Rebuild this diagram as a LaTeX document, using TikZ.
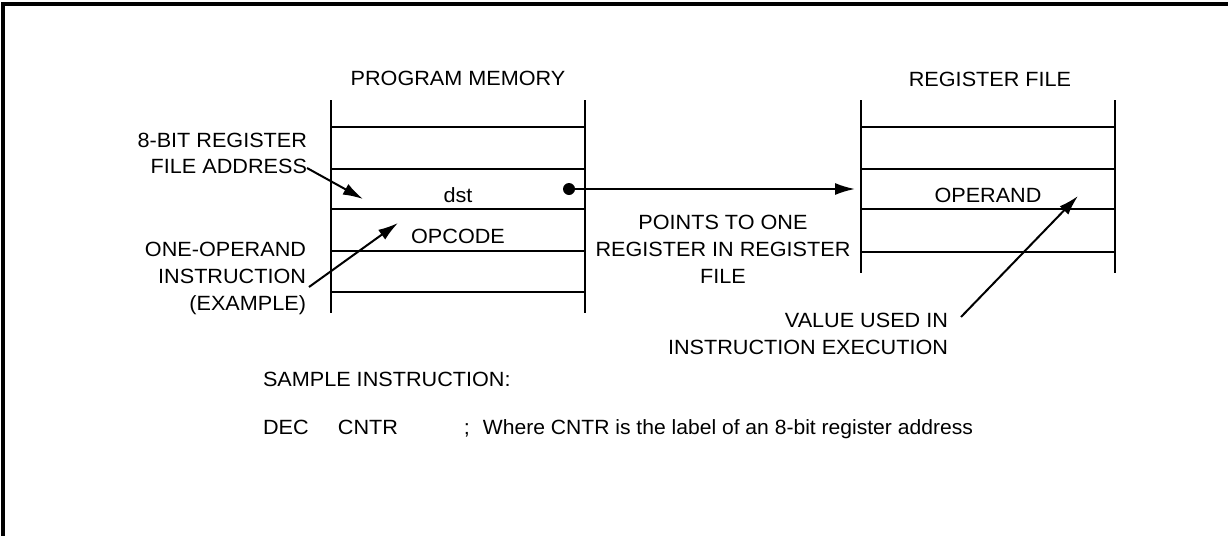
\documentclass[tikz,border=0pt]{standalone}
\usepackage{fontspec}
\setmainfont{Liberation Sans}[FakeStretch=1.05]
\usetikzlibrary{arrows.meta}
\begin{document}
\begin{tikzpicture}[x=0.5pt,y=-0.5pt,
  lbl/.style={inner sep=0pt, outer sep=0pt, font=\fontsize{10.3}{13.3}\selectfont},
  colline/.style={line width=1.2pt},
  rowline/.style={line width=1.2pt},
  arr/.style={line width=1pt, -{Latex[length=10pt,width=6pt]}},
  framel/.style={line width=1.6pt},
]
\useasboundingbox (0,0) rectangle (1228,536);
% frame (open at right and bottom)
\draw[framel] (3,536) -- (3,4) -- (1228,4);

% program memory
\node[lbl, anchor=base] (pmtitle) at (458,85) {PROGRAM MEMORY};
\draw[colline] (331,100) -- (331,313);
\draw[colline] (585,100) -- (585,313);
\foreach \yy in {127,169,209,251,292} \draw[rowline] (331,\yy) -- (585,\yy);
\node[lbl, anchor=base] (dst) at (458,202) {dst};
\node[lbl, anchor=base] (opcode) at (458,243) {OPCODE};

% register file
\node[lbl, anchor=base] (rftitle) at (990,86) {REGISTER FILE};
\draw[colline] (861,100) -- (861,273);
\draw[colline] (1115,100) -- (1115,273);
\foreach \yy in {127,169,209,252} \draw[rowline] (861,\yy) -- (1115,\yy);
\node[lbl, anchor=base] (operand) at (988,202) {OPERAND};

% labels
\node[lbl, anchor=north east, align=right] (addr) at (307,133) {8-BIT REGISTER\\FILE ADDRESS};
\node[lbl, anchor=north east, align=right] (oneop) at (306,242.5) {ONE-OPERAND\\INSTRUCTION\\(EXAMPLE)};
\node[lbl, anchor=north, align=center] (points) at (723,215.5) {POINTS TO ONE\\REGISTER IN REGISTER\\FILE};
\node[lbl, anchor=north east, align=right] (value) at (948,313.5) {VALUE USED IN\\INSTRUCTION EXECUTION};

% connector end points
\coordinate (addrtail) at (307,168);
\coordinate (addrtip) at (363,199);
\coordinate (optail) at (309,287);
\coordinate (optip) at (398,223);
\coordinate (dot) at (569,189);
\coordinate (rfin) at (855,189);
\coordinate (valtail) at (961,317);
\coordinate (valtip) at (1078,196);

\draw[arr] (addrtail) -- (addrtip);
\draw[arr] (optail) -- (optip);
\fill (dot) circle (3pt);
\draw[arr] (dot) -- (rfin);
\draw[arr] (valtail) -- (valtip);

% sample instruction
\node[lbl, anchor=base west] (sample) at (263,386) {SAMPLE INSTRUCTION:};
\node[lbl, anchor=base west] (dec) at (263,434) {\makebox[37.5pt][l]{DEC}\makebox[63pt][l]{CNTR}\makebox[9.5pt][l]{;}\scalebox{0.975}[1]{Where CNTR is the label of an 8-bit register address}};
\end{tikzpicture}
\end{document}
